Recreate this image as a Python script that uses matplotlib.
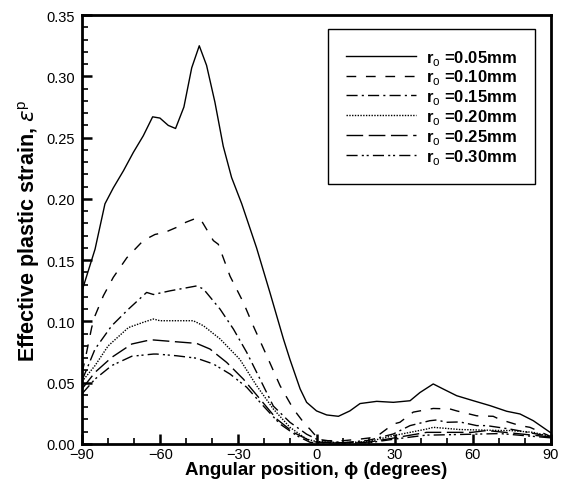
#!/usr/bin/env python3
"""Effective plastic strain vs angular position for several r_o values."""

import matplotlib

matplotlib.use("Agg")
import matplotlib.pyplot as plt
from matplotlib.ticker import FormatStrFormatter, MultipleLocator

plt.rcParams["font.family"] = ["Liberation Sans", "DejaVu Sans"]
plt.rcParams["mathtext.fontset"] = "custom"
plt.rcParams["mathtext.rm"] = "Liberation Sans"
plt.rcParams["mathtext.bf"] = "Liberation Sans:bold"

# r_o = 0.05 mm
phi_005 = [-90, -85, -81.2, -78, -74.1, -70.3, -66.5, -62.9, -60.1, -56.9, -54.1,
           -50.9, -47.9, -45, -42.2, -39, -35.8, -32.6, -28.7, -23, -17.8, -12.7,
           -10.2, -6.3, -3.8, 0, 3.9, 8.4, 12.8, 16.7, 23.1, 29.5, 35.9, 39.7,
           44.8, 48.6, 53.8, 60.2, 66.6, 73, 78.1, 83.2, 90]
eps_005 = [0.125, 0.159, 0.196, 0.209, 0.223, 0.238, 0.2515, 0.267, 0.266, 0.260, 0.2575,
           0.275, 0.307, 0.325, 0.309, 0.279, 0.243, 0.2175, 0.196, 0.160, 0.123, 0.0857,
           0.069, 0.045, 0.034, 0.027, 0.0237, 0.0226, 0.027, 0.033, 0.0348, 0.034, 0.0353, 0.042,
           0.049, 0.0449, 0.0394, 0.0353, 0.0313, 0.0267, 0.0245, 0.019, 0.009]

# r_o = 0.10 mm
phi_010 = [-90, -88.8, -86.3, -85, -81.8, -78, -72.8, -66.5, -62, -58.2, -53.7, -50.1,
           -46, -44.1, -39.6, -37.7, -33.2, -28.1, -24.3, -19.1, -14, -8.9, -5, -2.5,
           1.3, 10.2, 16.7, 20.5, 24.4, 29.5, 32, 37.1, 44.8, 51.2, 53.8, 61.5, 67.8,
           70.4, 78.1, 81.9, 90]
eps_010 = [0.058, 0.069, 0.095, 0.1047, 0.121, 0.136, 0.152, 0.166, 0.171, 0.1727, 0.1768, 0.181,
           0.1844, 0.182, 0.166, 0.163, 0.137, 0.1156, 0.0965, 0.072, 0.0476, 0.0286, 0.0177, 0.012,
           0.0027, 0.0027, 0.004, 0.005, 0.0082, 0.0163, 0.0177, 0.026, 0.029, 0.0286, 0.027, 0.023, 0.0226,
           0.020, 0.015, 0.0136, 0.006]

# r_o = 0.15 mm
phi_015 = [-90, -88.2, -85, -78.6, -72.2, -65.2, -62.6, -56.2, -51.1, -46, -43.4, -37,
           -31.9, -26.8, -21.7, -16.6, -10.2, -3.8, 0, 10, 20, 29.5, 35.9, 43.5, 46.1,
           49.9, 55, 61.5, 65.3, 74.2, 90]
eps_015 = [0.052, 0.061, 0.0775, 0.0965, 0.110, 0.1237, 0.122, 0.125, 0.127, 0.129, 0.1265, 0.110,
           0.0938, 0.0748, 0.053, 0.031, 0.0177, 0.008, 0.004, 0.001, 0.003, 0.0082, 0.015, 0.019, 0.0196,
           0.0177, 0.018, 0.015, 0.015, 0.0122, 0.006]

# r_o = 0.20 mm
phi_020 = [-90, -85, -80, -72.2, -66.5, -62.6, -60.1, -47.3, -43.4, -37, -29.4, -23,
           -16.6, -10.2, -3.8, 0, 10, 20, 29.5, 42.3, 44.8, 55, 70.4, 74.2, 83.2, 90]
eps_020 = [0.051, 0.064, 0.080, 0.095, 0.0993, 0.102, 0.1006, 0.1006, 0.0965, 0.0857, 0.069, 0.0476,
           0.0286, 0.0136, 0.004, 0.002, 0.001, 0.002, 0.0068, 0.0122, 0.0136, 0.0118, 0.011, 0.011, 0.0095, 0.006]

# r_o = 0.25 mm
phi_025 = [-90, -85, -78.6, -70.9, -65.2, -62.6, -56.2, -46, -40.9, -34.5, -28.1, -21.7,
           -15.3, -8.9, -2.5, 0, 10, 20, 30, 42.3, 44.8, 59.6, 65.3, 90]
eps_025 = [0.045, 0.0585, 0.0707, 0.0816, 0.0843, 0.0849, 0.0838, 0.0821, 0.0775, 0.0666, 0.053, 0.0367,
           0.0204, 0.0095, 0.0027, 0.0015, 0.001, 0.0015, 0.005, 0.0095, 0.0095, 0.0095, 0.011, 0.0057]

# r_o = 0.30 mm
phi_030 = [-90, -85, -78.6, -70.9, -62.6, -61.3, -53.7, -46, -39.6, -33.2, -26.8, -20.4,
           -14, -7.6, -2.5, 0, 10, 20, 30, 42.3, 44.8, 60, 70.4, 90]
eps_030 = [0.041, 0.053, 0.064, 0.0716, 0.0734, 0.0734, 0.072, 0.070, 0.0653, 0.0571, 0.0463, 0.031,
           0.0163, 0.0068, 0.0014, 0.001, 0.0008, 0.001, 0.004, 0.0073, 0.0073, 0.008, 0.0085, 0.005]

SERIES = [
    (phi_005, eps_005, r"r$_\mathrm{o}$ =0.05mm", "-"),
    (phi_010, eps_010, r"r$_\mathrm{o}$ =0.10mm", (0, (7, 7))),
    (phi_015, eps_015, r"r$_\mathrm{o}$ =0.15mm", (0, (8, 3, 1.5, 3))),
    (phi_020, eps_020, r"r$_\mathrm{o}$ =0.20mm", (0, (1, 1))),
    (phi_025, eps_025, r"r$_\mathrm{o}$ =0.25mm", (0, (12, 4))),
    (phi_030, eps_030, r"r$_\mathrm{o}$ =0.30mm", (0, (8, 3, 1.5, 2, 1.5, 3))),
]

fig = plt.figure(figsize=(5.70, 4.89), dpi=100)
ax = fig.add_axes([0.1439, 0.090, 0.8228, 0.877])

for phi, eps, label, style in SERIES:
    ax.plot(phi, eps, color="black", linestyle=style, linewidth=1.0, label=label)

ax.set_xlim(-90, 90)
ax.set_ylim(0, 0.35)
ax.xaxis.set_major_locator(MultipleLocator(30))
ax.xaxis.set_minor_locator(MultipleLocator(10))
ax.yaxis.set_major_locator(MultipleLocator(0.05))
ax.yaxis.set_minor_locator(MultipleLocator(0.01))
ax.yaxis.set_major_formatter(FormatStrFormatter("%.2f"))
ax.tick_params(which="major", direction="in", length=7, width=1.8, labelsize=10.5)
ax.tick_params(axis="x", which="major", pad=2)
ax.tick_params(axis="y", which="major", pad=5)
ax.tick_params(which="minor", direction="in", length=4, width=1.2)
for spine in ax.spines.values():
    spine.set_linewidth(2)

ax.set_xlabel("Angular position, \u03d5 (degrees)", fontsize=13.5, fontweight="bold", labelpad=0)
ax.set_ylabel(r"Effective plastic strain, $\epsilon^\mathrm{p}$", fontsize=15.5,
              fontweight="bold", labelpad=3)

leg = ax.legend(loc="upper right", bbox_to_anchor=(0.966, 0.967), fancybox=False,
                edgecolor="black", framealpha=1, handlelength=4.2, handletextpad=0.6,
                labelspacing=0.05, borderpad=1.1, borderaxespad=0,
                prop={"size": 12, "weight": "bold"})
leg.get_frame().set_linewidth(1.0)

fig.savefig("out.png", dpi=100)
